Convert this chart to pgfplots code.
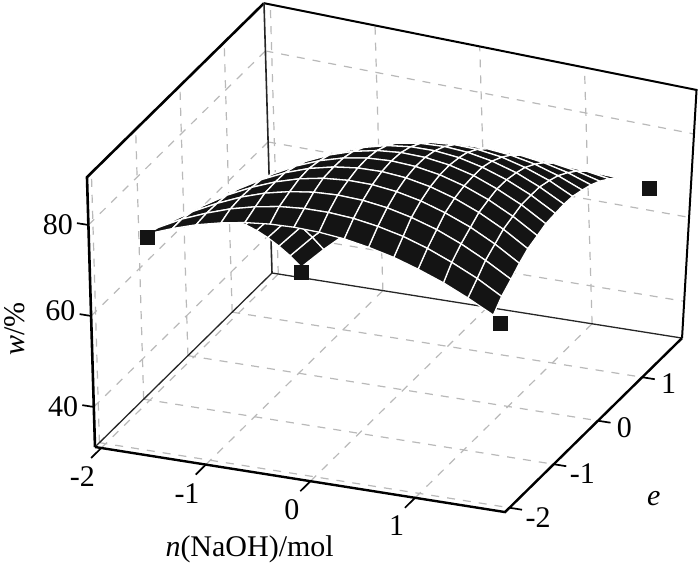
\documentclass[border=0pt]{standalone}
\usepackage{pgfplots}
\pgfplotsset{compat=1.18}
\usepackage{fontspec}
\setmainfont{Liberation Serif}
\usetikzlibrary{calc}
\definecolor{surfblack}{RGB}{20,20,20}
\definecolor{griddash}{RGB}{185,185,185}
\pgfplotsset{gridline/.style={griddash, dash pattern=on 8pt off 8pt, line width=1.2pt}}
\pgfplotsset{tickline/.style={black, line width=1.7pt}}
\begin{document}
\begin{tikzpicture}
\begin{axis}[
    x={(104.6pt,-16.6pt)}, y={(44.25pt,43.5pt)}, z={(-0.135pt,4.55pt)},
    xmin=-2.06, xmax=1.86, ymin=-2.1, ymax=1.9, zmin=31.2, zmax=90.5,
    clip=false,
    axis lines=box,
    axis line style={draw=none},
    xtick={-2,-1,0,1}, ytick={-2,-1,0,1}, ztick={40,60,80},
    xticklabels={-2,-1,0,1}, yticklabels={-2,-1,0,1}, zticklabels={40,\raisebox{11pt}{60},80},
    tick align=outside,
    major tick length=11pt,
    tick style={draw=none},
    ticklabel style={font=\fontsize{30}{31}\selectfont},
    xticklabel style={xshift=-5pt, yshift=-6pt},
    yticklabel style={xshift=4pt, yshift=8pt},
    zticklabel style={xshift=-4pt, yshift=14pt},
    xlabel={\textit{n}(NaOH)/mol},
    ylabel={\textit{e}},
    zlabel={\textit{w}/\%},
    xlabel style={at={(axis cs:0.07,-3.64,31.2)}, anchor=center, inner sep=0pt, font=\fontsize{30}{31}\selectfont},
    ylabel style={at={(axis cs:2.97,-1.36,31.2)}, anchor=center, inner sep=0pt, rotate=-90, font=\fontsize{30}{31}\selectfont},
    zlabel style={at={(axis cs:-3.76,0.1,29.9)}, anchor=center, inner sep=0pt, font=\fontsize{30}{31}\selectfont},
    colormap={blk}{color=(surfblack) color=(surfblack)},
]
\coordinate (o) at (axis cs:-2.06,-2.1,31.2);

% floor grid
\addplot3[gridline] coordinates {(-2,-2.1,31.2)(-2,1.9,31.2)};
\addplot3[gridline] coordinates {(-1,-2.1,31.2)(-1,1.9,31.2)};
\addplot3[gridline] coordinates {(0,-2.1,31.2)(0,1.9,31.2)};
\addplot3[gridline] coordinates {(1,-2.1,31.2)(1,1.9,31.2)};
\addplot3[gridline] coordinates {(-2.06,-2,31.2)(1.86,-2,31.2)};
\addplot3[gridline] coordinates {(-2.06,-1,31.2)(1.86,-1,31.2)};
\addplot3[gridline] coordinates {(-2.06,0,31.2)(1.86,0,31.2)};
\addplot3[gridline] coordinates {(-2.06,1,31.2)(1.86,1,31.2)};
% left wall grid
\addplot3[gridline] coordinates {(-2.06,-2,31.2)(-2.06,-2,90.5)};
\addplot3[gridline] coordinates {(-2.06,-1,31.2)(-2.06,-1,90.5)};
\addplot3[gridline] coordinates {(-2.06,0,31.2)(-2.06,0,90.5)};
\addplot3[gridline] coordinates {(-2.06,1,31.2)(-2.06,1,90.5)};
\addplot3[gridline] coordinates {(-2.06,-2.1,40)(-2.06,1.9,40)};
\addplot3[gridline] coordinates {(-2.06,-2.1,60)(-2.06,1.9,60)};
\addplot3[gridline] coordinates {(-2.06,-2.1,80)(-2.06,1.9,80)};
% back wall grid
\addplot3[gridline] coordinates {(-2,1.9,31.2)(-2,1.9,90.5)};
\addplot3[gridline] coordinates {(-1,1.9,31.2)(-1,1.9,89.5)};
\addplot3[gridline] coordinates {(0,1.9,31.2)(0,1.9,88.5)};
\addplot3[gridline] coordinates {(1,1.9,31.2)(1,1.9,87.6)};
\addplot3[gridline] coordinates {(-2.06,1.9,40)(1.89,1.9,39.4)};
\addplot3[gridline] coordinates {(-2.06,1.9,60)(1.96,1.9,58.1)};
\addplot3[gridline] coordinates {(-2.06,1.9,80)(2.03,1.9,76.7)};

% frame
\addplot3[black, line width=2.6pt] coordinates {(-2.06,-2.1,31.2)(-2.06,-2.1,90.5)(-2.06,1.9,90.5)};
\addplot3[black, line width=2pt] coordinates {(-2.06,1.9,90.5)(2.07,1.9,86.5)(1.86,1.9,31.2)};
\addplot3[black!85, line width=1.6pt] coordinates {(-2.06,1.9,90.5)(-2.06,1.9,31.2)};
\addplot3[black!85, line width=1.3pt] coordinates {(-2.06,-2.1,31.2)(-2.06,1.9,31.2)(1.86,1.9,31.2)};
\addplot3[black, line width=2.4pt] coordinates {(-2.06,-2.1,31.2)(1.86,-2.1,31.2)(1.86,1.9,31.2)};

% tick marks
\addplot3[tickline] coordinates {(-2,-2.1,31.2)(-2,-2.33,31.2)};
\addplot3[tickline] coordinates {(-1,-2.1,31.2)(-1,-2.33,31.2)};
\addplot3[tickline] coordinates {(0,-2.1,31.2)(0,-2.33,31.2)};
\addplot3[tickline] coordinates {(1,-2.1,31.2)(1,-2.33,31.2)};
\addplot3[tickline] coordinates {(1.86,-2,31.2)(1.98,-2,31.2)};
\addplot3[tickline] coordinates {(1.86,-1,31.2)(1.98,-1,31.2)};
\addplot3[tickline] coordinates {(1.86,0,31.2)(1.98,0,31.2)};
\addplot3[tickline] coordinates {(1.86,1,31.2)(1.98,1,31.2)};
\addplot3[tickline] coordinates {(-2.06,-2.1,40)(-2.17,-2.1,40)};
\addplot3[tickline] coordinates {(-2.06,-2.1,60)(-2.17,-2.1,60)};
\addplot3[tickline] coordinates {(-2.06,-2.1,80)(-2.17,-2.1,80)};

% design points
\addplot3[only marks, mark=square*, mark size=7pt, color=surfblack] coordinates {
    (-1.68,-1.68,74.7) (1.68,-1.68,68.1) (-1.68,1.68,34.9) (1.68,1.68,65.6)
};

% response surface
\addplot3[surf, shader=faceted, faceted color=white, line width=1.3pt, z buffer=sort, mesh/rows=15, mesh/cols=15] coordinates {
(-1.68,-1.68,75.40)(-1.44,-1.68,77.45)(-1.21,-1.68,79.12)(-0.97,-1.68,80.42)(-0.74,-1.68,81.33)(-0.50,-1.68,81.87)(-0.27,-1.68,82.02)(-0.03,-1.68,81.80)(0.21,-1.68,81.20)(0.44,-1.68,80.21)(0.68,-1.68,78.85)(0.91,-1.68,77.10)(1.15,-1.68,74.98)(1.38,-1.68,72.49)(1.62,-1.68,69.60)
(-1.68,-1.44,74.52)(-1.45,-1.44,77.19)(-1.21,-1.44,79.40)(-0.98,-1.44,81.17)(-0.74,-1.44,82.50)(-0.51,-1.44,83.39)(-0.27,-1.44,83.83)(-0.04,-1.44,83.82)(0.20,-1.44,83.37)(0.43,-1.44,82.47)(0.67,-1.44,81.14)(0.90,-1.44,79.35)(1.13,-1.44,77.12)(1.37,-1.44,74.45)(1.60,-1.44,71.34)
(-1.68,-1.20,73.35)(-1.45,-1.20,76.55)(-1.21,-1.20,79.25)(-0.98,-1.20,81.46)(-0.75,-1.20,83.17)(-0.51,-1.20,84.38)(-0.28,-1.20,85.09)(-0.05,-1.20,85.30)(0.19,-1.20,85.01)(0.42,-1.20,84.22)(0.65,-1.20,82.93)(0.89,-1.20,81.14)(1.12,-1.20,78.85)(1.35,-1.20,76.07)(1.59,-1.20,72.77)
(-1.68,-0.96,71.88)(-1.45,-0.96,75.56)(-1.22,-0.96,78.70)(-0.98,-0.96,81.30)(-0.75,-0.96,83.35)(-0.52,-0.96,84.86)(-0.29,-0.96,85.82)(-0.05,-0.96,86.24)(0.18,-0.96,86.12)(0.41,-0.96,85.44)(0.64,-0.96,84.23)(0.87,-0.96,82.46)(1.11,-0.96,80.16)(1.34,-0.96,77.32)(1.57,-0.96,73.92)
(-1.68,-0.72,70.10)(-1.45,-0.72,74.20)(-1.22,-0.72,77.71)(-0.99,-0.72,80.66)(-0.76,-0.72,83.02)(-0.53,-0.72,84.80)(-0.29,-0.72,86.01)(-0.06,-0.72,86.63)(0.17,-0.72,86.67)(0.40,-0.72,86.14)(0.63,-0.72,85.02)(0.86,-0.72,83.32)(1.09,-0.72,81.05)(1.32,-0.72,78.20)(1.55,-0.72,74.76)
(-1.68,-0.48,68.02)(-1.45,-0.48,72.47)(-1.22,-0.48,76.31)(-0.99,-0.48,79.55)(-0.76,-0.48,82.19)(-0.53,-0.48,84.22)(-0.30,-0.48,85.65)(-0.07,-0.48,86.47)(0.16,-0.48,86.69)(0.39,-0.48,86.30)(0.62,-0.48,85.31)(0.85,-0.48,83.71)(1.08,-0.48,81.51)(1.31,-0.48,78.71)(1.54,-0.48,75.30)
(-1.68,-0.24,65.67)(-1.45,-0.24,70.40)(-1.22,-0.24,74.51)(-0.99,-0.24,78.01)(-0.77,-0.24,80.88)(-0.54,-0.24,83.14)(-0.31,-0.24,84.77)(-0.08,-0.24,85.79)(0.15,-0.24,86.19)(0.38,-0.24,85.96)(0.61,-0.24,85.12)(0.84,-0.24,83.65)(1.06,-0.24,81.53)(1.29,-0.24,78.88)(1.52,-0.24,75.55)
(-1.68,0.00,63.00)(-1.45,0.00,67.95)(-1.23,0.00,72.28)(-1.00,0.00,75.98)(-0.77,0.00,79.06)(-0.54,0.00,81.51)(-0.31,0.00,83.35)(-0.09,0.00,84.55)(0.14,0.00,85.13)(0.37,0.00,85.09)(0.60,0.00,84.42)(0.82,0.00,83.12)(1.05,0.00,81.20)(1.28,0.00,78.67)(1.51,0.00,75.50)
(-1.68,0.24,60.03)(-1.45,0.24,65.14)(-1.23,0.24,69.62)(-1.00,0.24,73.49)(-0.77,0.24,76.74)(-0.55,0.24,79.37)(-0.32,0.24,81.38)(-0.10,0.24,82.77)(0.13,0.24,83.54)(0.36,0.24,83.69)(0.58,0.24,83.22)(0.81,0.24,82.13)(1.04,0.24,80.42)(1.26,0.24,78.10)(1.49,0.24,75.15)
(-1.68,0.48,56.78)(-1.45,0.48,61.97)(-1.23,0.48,66.56)(-1.00,0.48,70.54)(-0.78,0.48,73.93)(-0.55,0.48,76.71)(-0.33,0.48,78.88)(-0.10,0.48,80.45)(0.12,0.48,81.42)(0.35,0.48,81.77)(0.57,0.48,81.53)(0.80,0.48,80.68)(1.02,0.48,79.22)(1.25,0.48,77.17)(1.47,0.48,74.50)
(-1.68,0.72,53.22)(-1.46,0.72,58.44)(-1.23,0.72,63.07)(-1.01,0.72,67.14)(-0.78,0.72,70.62)(-0.56,0.72,73.52)(-0.34,0.72,75.85)(-0.11,0.72,77.59)(0.11,0.72,78.75)(0.34,0.72,79.34)(0.56,0.72,79.34)(0.78,0.72,78.76)(1.01,0.72,77.61)(1.23,0.72,75.88)(1.46,0.72,73.56)
(-1.68,0.96,49.36)(-1.46,0.96,54.54)(-1.23,0.96,59.17)(-1.01,0.96,63.26)(-0.79,0.96,66.81)(-0.57,0.96,69.81)(-0.34,0.96,72.27)(-0.12,0.96,74.18)(0.10,0.96,75.55)(0.33,0.96,76.37)(0.55,0.96,76.65)(0.77,0.96,76.38)(0.99,0.96,75.57)(1.22,0.96,74.22)(1.44,0.96,72.32)
(-1.68,1.20,45.19)(-1.46,1.20,50.27)(-1.24,1.20,54.84)(-1.01,1.20,58.91)(-0.79,1.20,62.49)(-0.57,1.20,65.57)(-0.35,1.20,68.14)(-0.13,1.20,70.22)(0.09,1.20,71.80)(0.32,1.20,72.87)(0.54,1.20,73.45)(0.76,1.20,73.53)(0.98,1.20,73.10)(1.20,1.20,72.19)(1.42,1.20,70.77)
(-1.68,1.44,40.76)(-1.46,1.44,45.66)(-1.24,1.44,50.11)(-1.02,1.44,54.13)(-0.80,1.44,57.70)(-0.58,1.44,60.82)(-0.36,1.44,63.51)(-0.14,1.44,65.74)(0.08,1.44,67.53)(0.30,1.44,68.88)(0.53,1.44,69.78)(0.75,1.44,70.23)(0.97,1.44,70.25)(1.19,1.44,69.82)(1.41,1.44,68.94)
(-1.68,1.68,36.00)(-1.46,1.68,40.67)(-1.24,1.68,44.95)(-1.02,1.68,48.86)(-0.80,1.68,52.39)(-0.58,1.68,55.54)(-0.36,1.68,58.31)(-0.15,1.68,60.70)(0.07,1.68,62.71)(0.29,1.68,64.34)(0.51,1.68,65.59)(0.73,1.68,66.46)(0.95,1.68,66.95)(1.17,1.68,67.07)(1.39,1.68,66.80)
};
\end{axis}
\pgfresetboundingbox
\path ($(o)+(-95pt,-116pt)$) rectangle ($(o)+(605pt,447pt)$);
\end{tikzpicture}
\end{document}
